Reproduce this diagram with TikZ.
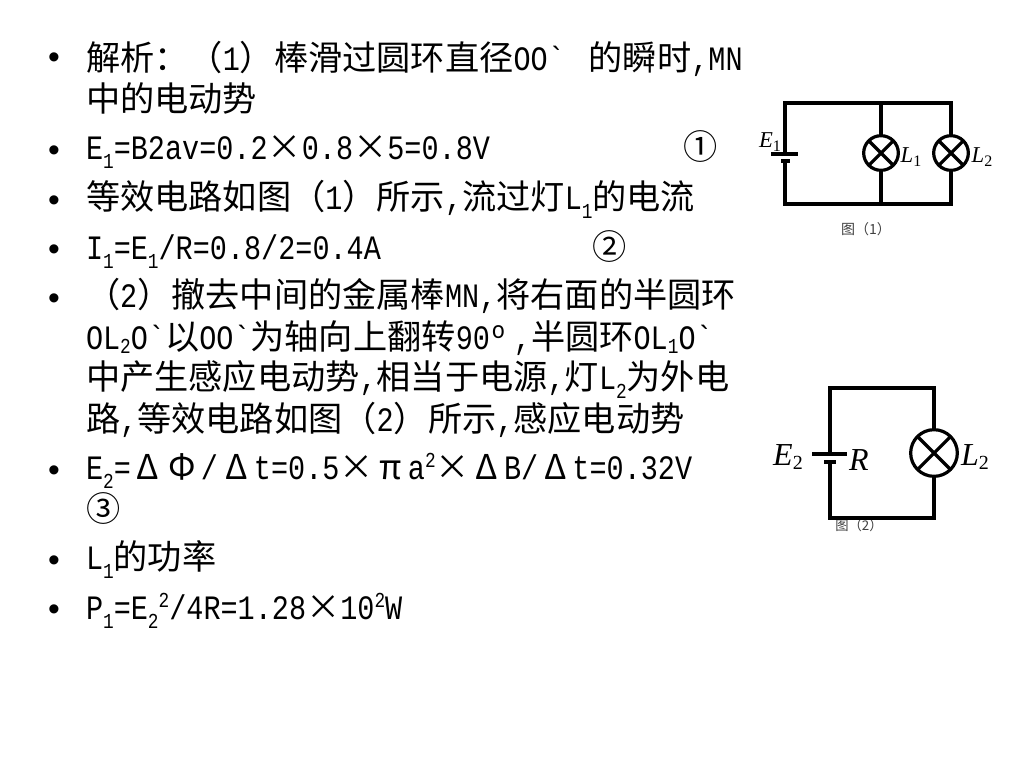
\documentclass[tikz,border=0pt]{standalone}
\usepackage{fontspec}
\setmainfont[FakeStretch=0.8333]{Liberation Mono}
\newfontfamily\plainmono[FakeStretch=0.8333]{Liberation Mono}
\newfontfamily\cjk{Noto Sans CJK SC}
\newfontfamily\serf{Liberation Serif}
\newfontfamily\bulf{Liberation Sans}
\newcommand{\zh}[1]{{\cjk #1}}
\newcommand{\sbs}[1]{\raisebox{-0.28em}{\fontsize{16}{16}\selectfont #1}}
\newcommand{\sbt}[1]{\raisebox{-0.14em}{\fontsize{16}{16}\selectfont #1}}
\newcommand{\sps}[1]{\raisebox{0.34em}{\fontsize{16}{16}\selectfont #1}}
\newcommand{\fw}[1]{\makebox[1em][c]{\cjk #1}}
\newcommand{\bq}{{\plainmono\symbol{96}}}
\begin{document}
\begin{tikzpicture}[x=0.75pt,y=-0.75pt,
  txt/.style={anchor=base west,inner sep=0pt,outer sep=0pt,font=\fontsize{25.65}{30}\selectfont},
  bullet/.style={anchor=center,inner sep=0pt,font=\bulf\fontsize{25.2}{30}\selectfont},
  wire/.style={line width=2.4pt,black,line cap=rect},
  lamp/.style={circle,draw=black,line width=2.4pt,inner sep=0pt,path picture={
    \draw[line width=2.4pt] (path picture bounding box.south west)--(path picture bounding box.north east)
    (path picture bounding box.north west)--(path picture bounding box.south east);}},
  lab/.style={inner sep=0pt,font=\serf\itshape},
  figcap/.style={inner sep=0pt,font=\cjk\fontsize{10.5}{11}\selectfont,text=black!75}]
\useasboundingbox[fill=white] (0,0) rectangle (1024,768);
% bullets
\node[bullet] (b1) at (54,61) {•};
\node[bullet] (b2) at (54,154) {•};
\node[bullet] (b3) at (54,204) {•};
\node[bullet] (b4) at (54,253) {•};
\node[bullet] (b5) at (54,302) {•};
\node[bullet] (b6) at (54,474) {•};
\node[bullet] (b7) at (54,564) {•};
\node[bullet] (b8) at (54,613) {•};
% text
\node[txt] (t1) at (86,70) {\zh{解析：（}1\zh{）棒滑过圆环直径}OO\bq\hspace{0.7em}\zh{的瞬时},MN};
\node[txt] (t2) at (86,111) {\zh{中的电动势}};
\node[txt] (t3) at (86,159) {E\sbs{1}=B2av=0.2\fw{×}0.8\fw{×}5=0.8V};
\node[txt] (c1) at (683,159) {\fw{①}};
\node[txt] (t4) at (86,209) {\zh{等效电路如图（}1\zh{）所示},\zh{流过灯}L\sbs{1}\zh{的电流}};
\node[txt] (t5) at (86,259) {I\sbs{1}=E\sbs{1}/R=0.8/2=0.4A};
\node[txt] (c2) at (592,259) {\fw{②}};
\node[txt] (t6) at (86,307) {\zh{（}2\zh{）撤去中间的金属棒}MN,\zh{将右面的半圆环}};
\node[txt] (t7) at (86,349) {OL\sbt{2}O\bq\zh{以}OO\bq\zh{为轴向上翻转}90º\hspace{0.2em},\zh{半圆环}OL\sbt{1}O\bq};
\node[txt] (t8) at (86,389) {\zh{中产生感应电动势},\zh{相当于电源},\zh{灯}L\sbs{2}\zh{为外电}};
\node[txt] (t9) at (86,431) {\zh{路},\zh{等效电路如图（}2\zh{）所示},\zh{感应电动势}};
\node[txt] (t10) at (86,479) {E\sbs{2}=\fw{Δ}\fw{Φ}\makebox[0.6em][c]{/}\fw{Δ}t=0.5\fw{×}\fw{π}a\sps{2}\fw{×}\fw{Δ}B/\fw{Δ}t=0.32V};
\node[txt] (c3) at (86,521) {\fw{③}};
\node[txt] (t11) at (86,569) {L\sbs{1}\zh{的功率}};
\node[txt] (t12) at (86,619) {P\sbs{1}=E\sbs{2}\sps{2}/4R=1.28\fw{×}10\sps{2}W};
% circuit 1
\coordinate (a1) at (785,103);
\coordinate (a2) at (881,103);
\coordinate (a3) at (951,103);
\coordinate (a4) at (785,204);
\coordinate (a5) at (881,204);
\coordinate (a6) at (951,204);
\coordinate (p1) at (785,154);
\coordinate (p2) at (785,161);
\coordinate (p1l) at (771,154);
\coordinate (p1r) at (798,154);
\coordinate (p2l) at (781,161);
\coordinate (p2r) at (790,161);
\node[lamp,minimum size=26pt] (la) at (881,153) {};
\node[lamp,minimum size=26pt] (lb) at (951,153) {};
\draw[wire] (p1) -- (a1) -- (a3) -- (lb.north);
\draw[wire] (a2) -- (la.north);
\draw[wire] (p2) -- (a4) -- (a6) -- (lb.south);
\draw[wire] (a5) -- (la.south);
\draw[wire,line cap=butt] (p1l) -- (p1r);
\draw[wire,line cap=butt] (p2l) -- (p2r);
\node[lab,font=\serf\itshape\fontsize{17}{17}\selectfont] (e1) at (770,142) {E\raisebox{-0.2em}{\upshape\fontsize{12}{12}\selectfont 1}};
\node[lab,font=\serf\itshape\fontsize{17}{17}\selectfont] (l1) at (911,157) {L\raisebox{-0.2em}{\upshape\fontsize{12}{12}\selectfont 1}};
\node[lab,font=\serf\itshape\fontsize{17}{17}\selectfont] (l2) at (982,157) {L\raisebox{-0.2em}{\upshape\fontsize{12}{12}\selectfont 2}};
\node[figcap] (f1) at (866,229) {图（1）};
% circuit 2
\node[figcap,font=\cjk\fontsize{10}{11}\selectfont] (f2) at (859,525) {图（2）};
\coordinate (d1) at (830,388);
\coordinate (d2) at (934,388);
\coordinate (d3) at (830,518);
\coordinate (d4) at (934,518);
\coordinate (q1) at (830,454);
\coordinate (q2) at (830,462);
\coordinate (q1l) at (812,454);
\coordinate (q1r) at (847,454);
\coordinate (q2l) at (824,462);
\coordinate (q2r) at (836,462);
\node[lamp,minimum size=35pt] (lc) at (934,453) {};
\draw[wire] (q1) -- (d1) -- (d2) -- (lc.north);
\draw[wire] (q2) -- (d3) -- (d4) -- (lc.south);
\draw[wire,line cap=butt] (q1l) -- (q1r);
\draw[wire,line cap=butt] (q2l) -- (q2r);
\node[lab,font=\serf\itshape\fontsize{24}{24}\selectfont] (e2) at (788,457) {E\raisebox{-0.15em}{\upshape\fontsize{15}{15}\selectfont 2}};
\node[lab,font=\serf\itshape\fontsize{24}{24}\selectfont] (r) at (859,460) {R};
\node[lab,font=\serf\itshape\fontsize{24}{24}\selectfont] (l3) at (975,457) {L\raisebox{-0.15em}{\upshape\fontsize{15}{15}\selectfont 2}};
\end{tikzpicture}
\end{document}
